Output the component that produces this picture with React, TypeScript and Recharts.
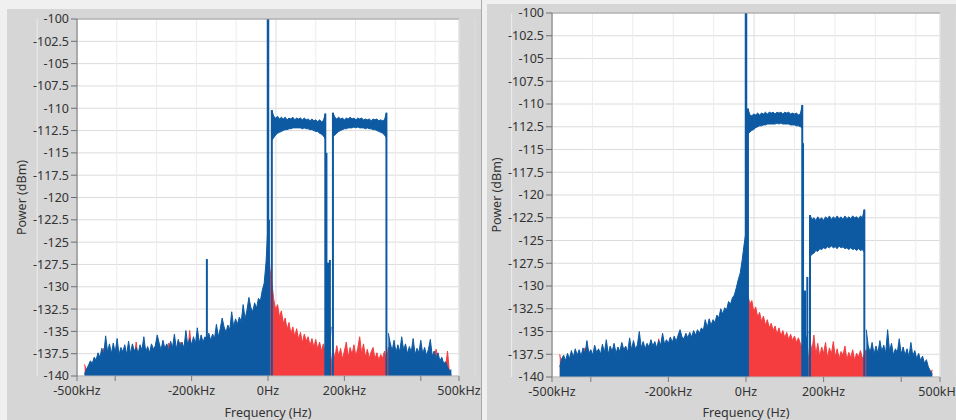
import { Area, CartesianGrid, ComposedChart, Label, ReferenceLine, XAxis, YAxis } from 'recharts';

// frequency grid of the traces, kHz
const FREQ_START_KHZ = -480;
const FREQ_STEP_KHZ = 5;
const FREQ_COUNT = 193;

const X_TICKS = [-500, -400, -200, 0, 200, 400, 500];
const X_TICK_LABELS = ['-500kHz', '', '-200kHz', '0Hz', '200kHz', '', '500kHz'];
const Y_TICKS = [-140, -137.5, -135, -132.5, -130, -127.5, -125, -122.5, -120, -117.5, -115, -112.5, -110, -107.5, -105, -102.5, -100];

// ---- left capture: two bands at the same level ----
const L_BLUE_LOW = [
  -139.8, -139.2, -138.8, -138.3, -138.6, -137.9, -138.2, -137.4, -137.9, -136.9,
  -137.6, -135.5, -137.3, -136.4, -137.5, -136.3, -137.4, -135.8, -137.6, -136.8,
  -137.3, -136.5, -137.6, -136.1, -137.5, -136.4, -137.2, -136.8, -137.5, -136.5,
  -137.1, -135.6, -137.3, -136.7, -137.4, -136.4, -137.0, -136.6, -135.4, -136.3,
  -137.1, -136.0, -136.9, -136.4, -137.2, -136.1, -136.8, -135.3, -137.0, -135.9,
  -136.7, -136.2, -136.9, -134.9, -136.6, -135.8, -136.5, -135.6, -136.4, -134.6,
  -136.3, -135.4, -136.2, -135.6, -135.9, -135.2, -136.0, -135.3, -135.8, -134.2,
  -135.6, -134.7, -133.5, -134.5, -135.1, -134.3, -134.8, -132.8, -134.5, -133.6,
  -134.2, -133.4, -133.9, -132.0, -133.6, -132.6, -131.2, -132.3, -132.8, -131.8,
  -132.4, -131.3, -131.6, -130.4, -129.6, -127.2, -123.0, -122.5,
];
const L_BLUE_GAP = [-135.0, -138.5, -134.5];
const L_BLUE_HIGH = [
  -135.2, -136.3, -137.2, -136.0, -137.4, -136.5, -137.3, -135.6, -137.1, -136.4,
  -137.5, -136.7, -137.3, -135.8, -137.6, -136.9, -137.4, -136.0, -137.5, -136.8,
  -137.7, -137.0, -135.9, -137.8, -137.2, -138.0, -137.4, -138.3, -137.9, -138.6,
  -138.4, -139.0, -139.4, -139.3,
];
const L_RED_LOW = [
  -138.7, -139.5, -139.4, -139.0, -139.1, -138.6, -138.9, -138.2, -138.5, -137.8,
  -136.9, -137.2, -138.0, -137.5, -138.2, -137.3, -138.1, -137.5, -138.3, -137.6,
  -138.0, -137.4, -138.2, -137.6, -138.1, -137.5, -137.9, -136.2, -138.0, -137.3,
  -137.8, -137.1, -138.0, -137.4, -138.1, -137.3, -137.7, -137.4, -138.0, -137.2,
  -137.8, -136.9, -137.6, -137.2, -136.3, -137.0, -137.5, -137.1, -137.7, -136.8,
  -136.2, -137.0, -137.6, -136.9, -137.3, -134.9, -137.2, -136.5, -137.1, -136.4,
  -137.0, -136.3, -136.9, -136.4, -136.7, -136.1, -136.8, -136.2, -136.4, -135.9,
  -136.3, -135.6, -136.1, -135.4, -135.8, -135.2, -135.6, -134.8, -135.3, -134.5,
  -135.0, -134.3, -134.7, -133.9, -134.4, -133.5, -134.0, -133.2, -133.6, -132.7,
  -133.2, -132.3, -132.5, -131.4, -130.5, -128.5, -125.0, -128.0,
];
const L_RED_BAND1 = [
  -129.5, -131.4, -132.6, -132.0, -133.4, -132.7, -134.1, -133.5, -134.8, -134.0,
  -135.3, -134.5, -135.6, -134.7, -135.9, -135.1, -136.3, -135.3, -136.1, -135.6,
  -136.6, -135.8, -136.8, -135.9, -137.0, -136.2, -137.2, -136.4, -137.4,
];
const L_RED_GAP = [-139.0, -139.5, -138.8];
const L_RED_BAND2 = [
  -137.0, -138.0, -136.6, -137.8, -136.9, -138.1, -137.2, -136.2, -137.9, -136.8,
  -137.6, -136.5, -137.8, -136.9, -135.6, -137.5, -136.4, -137.9, -137.0, -138.0,
  -137.3, -136.8, -138.1, -137.4, -138.2, -137.6, -138.0, -137.2, -138.4,
];
const L_RED_HIGH = [
  -136.8, -137.2, -137.9, -136.9, -138.0, -137.3, -138.0, -136.8, -137.9, -137.2,
  -138.2, -137.5, -138.0, -137.1, -138.3, -137.6, -138.1, -136.9, -138.2, -137.5,
  -138.4, -137.8, -137.2, -138.5, -137.9, -137.0, -138.1, -138.8, -138.5, -139.0,
  -139.0, -137.2, -139.7, -139.8,
];
const L_BAND1_HI = [
  -110.2, -110.9, -111.1, -110.9, -111.2, -111.0, -111.2, -111.0, -111.3, -111.1,
  -111.2, -111.0, -111.3, -111.1, -111.2, -111.1, -111.3, -111.1, -111.3, -111.2,
  -111.4, -111.2, -111.4, -111.3, -111.5, -111.3, -111.5, -111.4, -110.6,
];
const L_BAND1_LO = [
  -113.6, -113.3, -113.0, -112.8, -112.7, -112.6, -112.5, -112.4, -112.4, -112.3,
  -112.3, -112.2, -112.2, -112.2, -112.2, -112.2, -112.3, -112.2, -112.3, -112.3,
  -112.4, -112.4, -112.5, -112.6, -112.6, -112.8, -112.9, -113.1, -113.4,
];
const L_BAND2_HI = [
  -110.5, -111.0, -111.2, -111.0, -111.2, -111.1, -111.3, -111.1, -111.2, -111.0,
  -111.2, -111.1, -111.3, -111.1, -111.2, -111.1, -111.3, -111.2, -111.3, -111.2,
  -111.4, -111.2, -111.3, -111.2, -111.4, -111.3, -111.4, -111.3, -110.5,
];
const L_BAND2_LO = [
  -113.2, -113.0, -112.8, -112.6, -112.5, -112.4, -112.3, -112.3, -112.2, -112.2,
  -112.2, -112.1, -112.2, -112.1, -112.2, -112.2, -112.2, -112.3, -112.2, -112.3,
  -112.3, -112.4, -112.4, -112.5, -112.6, -112.7, -112.8, -113.0, -113.3,
];
const L_SPIKE_FREQ = [-160, 0, 10, 150, 153, 157, 162, 170, 310];
const L_SPIKE_TOP = [-126.9, -100, -110.2, -110.6, -115.0, -127.3, -127.0, -110.5, -110.5];

// ---- right capture: second band about 11 dB lower ----
const R_BLUE_LOW = [
  -138.9, -138.0, -137.6, -138.2, -137.4, -138.0, -137.1, -137.8, -136.9, -137.6,
  -137.0, -137.7, -136.8, -137.5, -136.0, -137.4, -137.0, -137.6, -136.5, -137.3,
  -136.9, -137.5, -136.4, -137.3, -135.9, -137.5, -136.6, -137.2, -136.3, -137.4,
  -136.7, -137.2, -136.2, -137.0, -136.6, -137.3, -135.7, -137.0, -136.0, -136.9,
  -136.5, -135.0, -136.8, -136.1, -136.9, -136.3, -136.7, -135.9, -136.6, -136.1,
  -136.8, -136.0, -136.5, -135.2, -136.4, -135.9, -136.3, -135.6, -136.2, -135.5,
  -136.1, -135.4, -134.8, -135.6, -135.8, -135.2, -135.7, -135.1, -135.6, -134.9,
  -135.4, -134.8, -135.2, -134.6, -134.9, -133.7, -134.6, -133.6, -134.3, -133.7,
  -134.0, -133.2, -133.5, -132.5, -133.1, -132.4, -132.6, -131.7, -132.0, -131.3,
  -131.0, -130.2, -129.3, -128.6, -127.2, -125.5, -124.0,
];
const R_BLUE_GAP = [-134.5, -136.0, -135.0];
const R_BLUE_HIGH = [
  -134.8, -136.6, -137.3, -136.2, -137.5, -136.6, -137.4, -136.0, -137.2, -136.5,
  -137.4, -134.8, -137.2, -136.3, -137.6, -136.9, -137.3, -135.8, -137.5, -136.7,
  -137.6, -136.9, -137.8, -136.2, -137.7, -137.1, -138.0, -137.4, -138.2, -137.7,
  -138.5, -138.1, -138.9, -139.3, -139.7,
];
const R_RED_LOW = [
  -137.5, -138.8, -138.3, -138.9, -138.2, -138.7, -137.9, -138.5, -137.7, -138.3,
  -137.8, -138.4, -137.6, -136.8, -137.4, -138.1, -137.7, -138.3, -137.3, -138.0,
  -137.6, -138.2, -137.2, -138.0, -137.6, -138.2, -137.4, -137.9, -137.1, -138.1,
  -137.5, -137.9, -137.0, -137.7, -137.4, -138.0, -137.2, -137.8, -136.8, -137.6,
  -137.2, -136.2, -137.5, -136.9, -137.6, -137.1, -137.5, -136.7, -137.3, -136.9,
  -137.5, -135.8, -137.3, -136.5, -137.1, -136.6, -137.0, -136.4, -136.9, -136.3,
  -136.9, -136.2, -136.8, -136.4, -136.6, -136.0, -136.5, -135.9, -136.4, -135.7,
  -136.2, -135.6, -136.0, -135.4, -135.7, -135.0, -135.4, -134.4, -135.1, -134.5,
  -134.8, -134.0, -134.3, -133.3, -133.9, -133.2, -133.4, -132.5, -132.8, -132.1,
  -131.8, -131.0, -130.1, -129.4, -128.0, -127.0, -126.0,
];
const R_RED_BAND1 = [
  -131.0, -132.0, -131.6, -132.8, -132.3, -133.4, -132.9, -133.9, -133.3, -134.3,
  -133.7, -134.6, -134.1, -134.9, -134.4, -135.3, -134.6, -135.5, -134.9, -135.7,
  -135.1, -135.9, -135.3, -136.0, -135.5, -136.2, -135.7, -136.3, -136.8,
];
const R_RED_GAP = [-138.8, -139.4, -138.6];
const R_RED_BAND2 = [
  -136.0, -137.2, -135.4, -137.6, -136.3, -137.8, -136.7, -137.4, -136.2, -137.9,
  -136.8, -137.5, -136.1, -137.8, -136.9, -138.0, -137.2, -137.6, -136.6, -138.1,
  -137.3, -137.9, -137.0, -138.2, -137.4, -137.8, -137.1, -138.0, -137.5,
];
const R_RED_HIGH = [
  -137.0, -137.4, -138.1, -137.0, -138.2, -137.4, -138.1, -136.9, -138.0, -137.3,
  -138.1, -137.2, -137.9, -137.1, -138.3, -137.6, -138.0, -137.0, -138.2, -137.5,
  -138.3, -137.7, -138.5, -137.4, -138.4, -137.9, -138.6, -138.1, -138.8, -138.4,
  -139.1, -138.8, -139.4, -139.6, -139.2,
];
const R_BAND1_HI = [
  -110.5, -111.2, -111.3, -111.1, -111.2, -111.0, -111.2, -111.0, -111.1, -110.9,
  -111.1, -110.9, -111.0, -110.9, -111.1, -110.9, -111.0, -110.9, -111.1, -110.9,
  -111.0, -110.9, -111.1, -111.0, -111.1, -111.0, -111.2, -111.1, -110.1,
];
const R_BAND1_LO = [
  -113.3, -113.1, -112.9, -112.8, -112.6, -112.5, -112.4, -112.4, -112.3, -112.3,
  -112.2, -112.2, -112.2, -112.2, -112.2, -112.1, -112.2, -112.1, -112.2, -112.2,
  -112.2, -112.2, -112.3, -112.3, -112.3, -112.4, -112.4, -112.5, -112.6,
];
const R_BAND2_HI = [
  -122.2, -122.7, -122.5, -122.8, -122.4, -122.7, -122.5, -122.8, -122.4, -122.6,
  -122.3, -122.7, -122.4, -122.6, -122.3, -122.6, -122.4, -122.7, -122.3, -122.6,
  -122.4, -122.6, -122.3, -122.5, -122.4, -122.6, -122.3, -122.5, -121.6,
];
const R_BAND2_LO = [
  -126.8, -126.5, -126.4, -126.1, -126.2, -125.9, -126.0, -125.8, -125.9, -125.7,
  -125.8, -125.6, -125.8, -125.7, -125.9, -125.6, -125.8, -125.7, -125.9, -125.8,
  -126.0, -125.8, -126.0, -125.9, -126.1, -125.9, -126.1, -126.0, -126.3,
];
const R_SPIKE_FREQ = [0, 5, 145, 147, 152, 158, 165, 305];
const R_SPIKE_TOP = [-100, -110.5, -110.1, -114.3, -130.5, -129.0, -122.2, -121.6];

const BLUE = '#0d5aa3';
const RED = '#f53d3f';
const PANEL_BG = '#d6d6d6';

type Segment = { start: number; values: number[] };

const FREQS = Array.from({ length: FREQ_COUNT }, (_, i) => FREQ_START_KHZ + i * FREQ_STEP_KHZ);
// vertical grid: every 20 kHz, darker every 100 kHz
const GRID_MAJOR = [-400, -300, -200, -100, 0, 100, 200, 300, 400];
const GRID_MINOR = FREQS.filter((f) => f % 20 === 0 && f % 100 !== 0);

function valueAt(segs: Segment[], f: number): number | null {
  for (const s of segs) {
    const i = (f - s.start) / FREQ_STEP_KHZ;
    if (i >= 0 && i < s.values.length) return s.values[i];
  }
  return null;
}

interface PanelProps {
  left: number;
  top: number;
  width: number;
  height: number;
  plotTop: number;
  plotRight: number;
  yAxisWidth: number;
  xAxisHeight: number;
  yLabelOffset: number;
  blue: Segment[];
  red: Segment[];
  bandLo: Segment[];
  bandHi: Segment[];
  spikeFreq: number[];
  spikeTop: number[];
}

function SpectrumPanel(p: PanelProps) {
  const rows = FREQS.map((f) => {
    const lo = valueAt(p.bandLo, f);
    const hi = valueAt(p.bandHi, f);
    return {
      f,
      red: valueAt(p.red, f),
      blue: valueAt(p.blue, f),
      band: lo !== null && hi !== null ? [lo, hi] : null,
    };
  });

  return (
    <div style={{ position: 'absolute', left: p.left, top: p.top, width: p.width, height: p.height, background: PANEL_BG }}>
      <ComposedChart
        width={p.width}
        height={p.height}
        data={rows}
        margin={{ top: p.plotTop, right: p.plotRight, bottom: 0, left: 0 }}
      >
        <CartesianGrid vertical={false} stroke="#dcdcdc" fill="#ffffff" fillOpacity={1} />
        <CartesianGrid xAxisId="minor" horizontal={false} stroke="#ececec" />
        <CartesianGrid xAxisId="major" horizontal={false} stroke="#dddddd" />
        <XAxis xAxisId="minor" type="number" domain={[-500, 500]} ticks={GRID_MINOR} interval={0} hide />
        <XAxis xAxisId="major" type="number" domain={[-500, 500]} ticks={GRID_MAJOR} interval={0} hide />
        <XAxis
          type="number"
          dataKey="f"
          domain={[-500, 500]}
          ticks={X_TICKS}
          interval={0}
          tickFormatter={(v: number) => X_TICK_LABELS[X_TICKS.indexOf(v)] ?? ''}
          height={p.xAxisHeight}
          tickSize={5}
          tickMargin={5}
          stroke="#7a7a7a"
          tick={{ fill: '#333', fontSize: 12.5 }}
          axisLine={{ stroke: '#b8b8b8' }}
        >
          <Label value="Frequency (Hz)" position="insideBottom" offset={3} fill="#333" fontSize={12.5} />
        </XAxis>
        <YAxis
          type="number"
          domain={[-140, -100]}
          ticks={Y_TICKS}
          interval={0}
          allowDataOverflow
          width={p.yAxisWidth}
          tickSize={6}
          tickMargin={2}
          stroke="#6e6e6e"
          tick={{ fill: '#333', fontSize: 12.5 }}
        >
          <Label
            value="Power (dBm)"
            angle={-90}
            position="insideLeft"
            offset={p.yLabelOffset}
            fill="#333"
            fontSize={12.5}
            style={{ textAnchor: 'middle' }}
          />
        </YAxis>
        <Area
          type="linear"
          dataKey="red"
          baseValue="dataMin"
          stroke={RED}
          strokeWidth={1}
          fill={RED}
          fillOpacity={1}
          isAnimationActive={false}
        />
        <Area
          type="linear"
          dataKey="blue"
          baseValue="dataMin"
          stroke={BLUE}
          strokeWidth={1}
          fill={BLUE}
          fillOpacity={1}
          isAnimationActive={false}
        />
        {/* occupied bands: range between lower and upper edge of the trace */}
        <Area
          type="linear"
          dataKey="band"
          stroke={BLUE}
          strokeWidth={1}
          fill={BLUE}
          fillOpacity={1}
          isAnimationActive={false}
        />
        {p.spikeFreq.map((f, i) => (
          <ReferenceLine
            key={'s' + f}
            segment={[
              { x: f, y: -140 },
              { x: f, y: p.spikeTop[i] },
            ]}
            stroke={BLUE}
            strokeWidth={f === 0 ? 2.5 : 2}
          />
        ))}
        <ReferenceLine y={-100} stroke="#9c9c9c" />
      </ComposedChart>
    </div>
  );
}

export default function App() {
  return (
    <div
      style={{
        position: 'fixed',
        left: 0,
        top: 0,
        width: 956,
        height: 420,
        background: '#f0f0f0',
        fontFamily: "'Noto Sans', 'Open Sans', sans-serif",
        overflow: 'hidden',
      }}
    >
      <SpectrumPanel
        left={7}
        top={9}
        width={474}
        height={411}
        plotTop={10}
        plotRight={22}
        yAxisWidth={70}
        xAxisHeight={44}
        yLabelOffset={15}
        blue={[
          { start: -480, values: L_BLUE_LOW },
          { start: 155, values: L_BLUE_GAP },
          { start: 315, values: L_BLUE_HIGH },
        ]}
        red={[
          { start: -480, values: L_RED_LOW },
          { start: 10, values: L_RED_BAND1 },
          { start: 155, values: L_RED_GAP },
          { start: 170, values: L_RED_BAND2 },
          { start: 315, values: L_RED_HIGH },
        ]}
        bandLo={[
          { start: 10, values: L_BAND1_LO },
          { start: 170, values: L_BAND2_LO },
        ]}
        bandHi={[
          { start: 10, values: L_BAND1_HI },
          { start: 170, values: L_BAND2_HI },
        ]}
        spikeFreq={L_SPIKE_FREQ}
        spikeTop={L_SPIKE_TOP}
      />
      <div style={{ position: 'absolute', left: 481, top: 0, width: 1, height: 420, background: '#a8a8a8' }} />
      <SpectrumPanel
        left={487}
        top={4}
        width={469}
        height={416}
        plotTop={9}
        plotRight={16}
        yAxisWidth={65}
        xAxisHeight={43}
        yLabelOffset={10}
        blue={[
          { start: -480, values: R_BLUE_LOW },
          { start: 150, values: R_BLUE_GAP },
          { start: 310, values: R_BLUE_HIGH },
        ]}
        red={[
          { start: -480, values: R_RED_LOW },
          { start: 5, values: R_RED_BAND1 },
          { start: 150, values: R_RED_GAP },
          { start: 165, values: R_RED_BAND2 },
          { start: 310, values: R_RED_HIGH },
        ]}
        bandLo={[
          { start: 5, values: R_BAND1_LO },
          { start: 165, values: R_BAND2_LO },
        ]}
        bandHi={[
          { start: 5, values: R_BAND1_HI },
          { start: 165, values: R_BAND2_HI },
        ]}
        spikeFreq={R_SPIKE_FREQ}
        spikeTop={R_SPIKE_TOP}
      />
    </div>
  );
}
